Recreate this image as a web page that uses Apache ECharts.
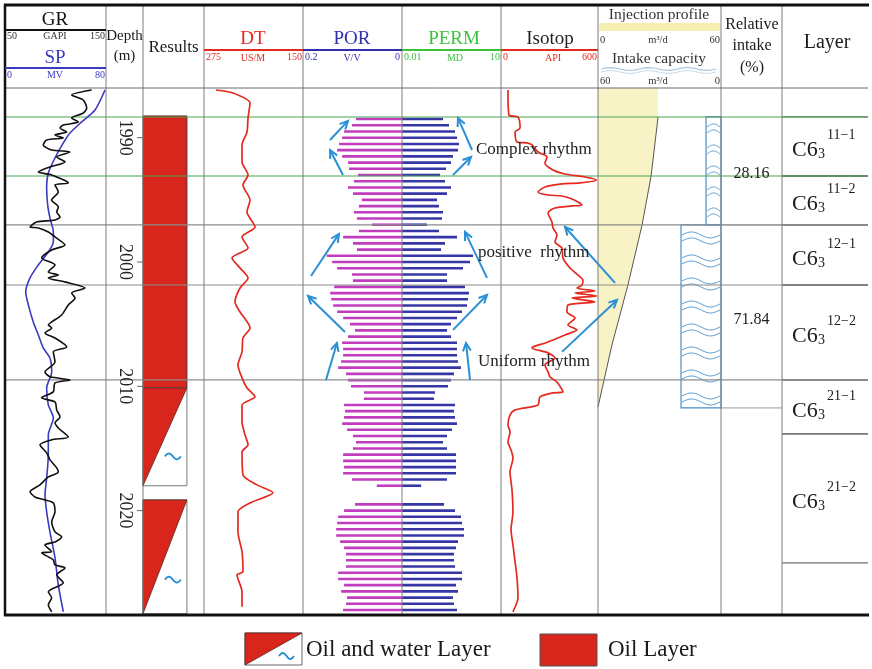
<!DOCTYPE html>
<html>
<head>
<meta charset="utf-8">
<script src="https://cdn.jsdelivr.net/npm/echarts@6/dist/echarts.min.js"></script>
<style>
  html, body { margin: 0; padding: 0; background: #fff; }
  #chart { width: 872px; height: 669px; }
</style>
</head>
<body>
<div id="chart"></div>
<script>
// depth scale (m)
const depthTicks = [1990, 2000, 2010, 2020];

// GR (GAPI) curve
const grDepth = [1986.16,1986.56,1986.97,1987.61,1988.01,1988.41,1988.73,1988.98,1989.22,1989.54,1989.78,1990.02,1990.18,1990.58,1990.99,1991.15,1991.55,1991.95,1992.35,1992.76,1993.0,1993.64,1993.8,1994.36,1995.01,1995.57,1995.97,1996.38,1996.62,1996.78,1997.18,1997.26,1997.58,1997.98,1998.63,1999.03,1999.67,2000.24,2000.8,2001.04,2001.28,2001.6,2002.09,2002.49,2002.89,2003.45,2004.26,2004.82,2005.06,2005.3,2005.71,2006.11,2006.83,2007.23,2008.04,2008.84,2009.24,2009.49,2009.73,2010.45,2010.93,2011.26,2011.9,2012.46,2012.94,2013.35,2014.07,2014.31,2014.71,2015.36,2015.92,2016.56,2016.89,2017.29,2017.93,2018.49,2018.9,2019.14,2019.38,2020.1,2020.91,2021.71,2022.11,2022.52,2022.76,2023.32,2023.4,2023.96,2024.37,2024.61,2025.17,2025.81,2026.54,2027.02,2027.58,2028.14];
const grValue = [135.8,116.0,127.5,130.9,127.5,116.0,122.6,107.7,104.5,111.1,99.5,107.7,91.3,87.9,96.2,114.4,101.2,109.4,94.5,83.0,96.2,112.7,99.5,102.8,96.2,102.8,101.2,104.5,99.5,81.4,74.8,83.0,92.9,99.5,109.4,96.2,86.3,99.5,92.9,102.8,92.9,109.4,129.2,116.0,119.3,112.7,106.1,96.2,92.9,96.2,89.6,99.5,111.1,97.8,99.5,89.6,94.6,114.4,99.5,97.8,86.3,99.5,101.2,104.5,99.5,102.8,112.7,96.2,84.6,91.3,94.6,101.2,102.8,92.9,84.6,74.8,79.7,89.6,97.8,99.5,96.2,99.5,106.1,99.5,89.6,96.2,86.3,97.8,99.5,109.4,101.2,107.7,92.9,96.2,92.9,96.2];

// SP (MV) curve
const spDepth = [1986.16,1987.77,1988.73,1989.62,1990.42,1991.63,1992.84,1994.04,1995.41,1996.46,1997.58,1998.39,1999.19,2000.24,2001.28,2002.41,2003.45,2004.82,2005.87,2006.91,2007.72,2008.84,2010.13,2011.5,2012.54,2013.91,2015.52,2017.37,2018.73,2020.1,2021.71,2023.8,2025.97,2028.14];
const spValue = [79.2,71.3,60.7,51.5,46.2,39.6,34.3,33.0,33.8,35.6,38.3,38.3,34.3,26.4,19.8,16.4,18.5,22.4,26.4,30.3,35.6,37.0,33.0,34.3,38.3,34.3,34.3,33.0,31.7,33.0,35.6,39.6,42.2,46.2];

// DT (US/M) curve
const dtDepth = [1986.16,1986.4,1987.21,1988.41,1989.54,1990.58,1991.95,1993.0,1993.8,1995.01,1995.97,1997.18,1997.98,1998.87,1999.67,2000.48,2001.28,2002.09,2003.21,2004.02,2005.3,2006.11,2007.23,2008.28,2009.32,2010.13,2010.85,2011.5,2012.86,2013.91,2014.71,2015.28,2017.13,2017.93,2018.57,2019.38,2020.1,2021.71,2023.32,2024.93,2025.17,2026.54,2027.74];
const dtValue = [259.8,238.4,216.9,219.4,220.7,227.0,227.0,219.4,225.8,216.9,220.7,210.6,227.0,219.4,239.6,229.5,219.4,229.5,235.9,229.5,216.9,225.8,227.0,232.1,227.0,220.7,210.6,227.0,227.0,223.2,219.4,227.0,225.8,208.1,187.9,216.9,232.1,232.1,227.0,225.8,233.3,227.0,227.0];

// Isotop (API) curve
const isoDepth = [1986.16,1988.17,1988.33,1989.22,1989.54,1990.34,1990.42,1990.58,1991.15,1991.55,1992.03,1992.6,1992.92,1993.16,1993.4,1993.64,1993.72,1993.96,1994.36,1994.61,1994.69,1994.93,1995.41,1995.49,1995.65,1996.05,1996.78,1997.26,1997.82,1998.39,1998.87,1999.67,2000.48,2001.2,2001.44,2001.85,2002.09,2002.33,2002.49,2002.73,2002.89,2003.21,2003.45,2004.02,2004.5,2005.06,2005.46,2005.87,2006.43,2006.83,2006.91,2007.31,2007.72,2008.28,2008.84,2009.24,2009.65,2010.45,2010.53,2010.85,2011.5,2011.9,2012.3,2013.11,2013.67,2014.47,2015.12,2015.76,2016.89,2018.33,2020.1,2021.55,2022.76,2024.12,2025.41,2027.02,2028.14];
const isoValue = [43,49,105,118,87,99,161,192,229,285,272,322,396,520,590,489,377,272,229,291,377,439,501,439,334,291,315,322,346,334,377,383,427,489,507,501,470,581,458,594,439,581,414,408,458,414,470,396,291,198,192,291,334,272,291,303,346,383,322,241,229,87,56,43,56,43,62,74,56,68,74,62,74,87,99,105,74];

// POR (V/V) and PERM (MD) per 0.5 m sample
const barDepth = [1988.5,1989,1989.5,1990,1990.5,1991,1991.5,1992,1992.5,1993,1993.5,1994,1994.5,1995,1995.5,1996,1996.5,1997,1997.5,1998,1998.5,1999,1999.5,2000,2000.5,2001,2001.5,2002,2002.5,2003,2003.5,2004,2004.5,2005,2005.5,2006,2006.5,2007,2007.5,2008,2008.5,2009,2009.5,2010,2010.5,2011,2011.5,2012,2012.5,2013,2013.5,2014,2014.5,2015,2015.5,2016,2016.5,2017,2017.5,2018,2019.5,2020,2020.5,2021,2021.5,2022,2022.5,2023,2023.5,2024,2024.5,2025,2025.5,2026,2026.5,2027,2027.5,2028];
const porValue = [0.093,0.101,0.117,0.121,0.127,0.131,0.121,0.109,0.107,0.089,0.097,0.109,0.099,0.081,0.087,0.097,0.091,0.061,0.087,0.119,0.099,0.091,0.152,0.141,0.131,0.101,0.099,0.137,0.145,0.143,0.139,0.131,0.119,0.105,0.095,0.109,0.121,0.119,0.119,0.123,0.129,0.113,0.109,0.103,0.077,0.077,0.117,0.115,0.117,0.121,0.111,0.099,0.093,0.099,0.119,0.119,0.117,0.119,0.101,0.051,0.095,0.117,0.129,0.131,0.133,0.133,0.125,0.117,0.113,0.113,0.113,0.129,0.129,0.117,0.123,0.111,0.113,0.119];
const permValue = [0.175,0.266,0.404,0.464,0.534,0.498,0.351,0.305,0.215,0.142,0.201,0.305,0.231,0.115,0.132,0.175,0.163,0.057,0.132,0.464,0.201,0.152,1.42,1.15,0.705,0.231,0.231,0.811,1.07,1.00,0.932,0.658,0.464,0.305,0.231,0.305,0.464,0.464,0.464,0.498,0.613,0.376,0.305,0.248,0.100,0.093,0.404,0.376,0.404,0.464,0.327,0.231,0.175,0.231,0.433,0.433,0.433,0.433,0.231,0.038,0.188,0.404,0.613,0.658,0.757,0.757,0.498,0.433,0.376,0.376,0.404,0.658,0.658,0.433,0.498,0.351,0.376,0.464];

// interpretation results
const resultTop = [1988.25, 2010.13, 2019.14];
const resultBase = [2010.13, 2018.0, 2028.3];
const resultType = ['oil', 'oilwater', 'oilwater'];

// injection profile (m3/d)
const injDepth = [1986.0, 1988.33, 1993.08, 1997.02, 2001.85, 2006.67, 2011.66];
const injRate = [29.3, 29.3, 25.9, 21.5, 14.6, 6.8, 0];

// intake capacity (m3/d) and relative intake (%)
const intakeTop = [1988.33, 1997.02];
const intakeBase = [1997.02, 2011.74];
const intakeRate = [7.3, 19.5];
const relativeIntake = [28.16, 71.84];

// layers
const layerTop = [1988.33, 1993.08, 1997.02, 2001.85, 2009.49, 2013.83];
const layerBase = [1993.08, 1997.02, 2001.85, 2009.49, 2013.83, 2024.2];
const layerName = ['11\u22121', '11\u22122', '12\u22121', '12\u22122', '21\u22121', '21\u22122'];

// correlation lines
const zoneLines = [1988.33, 1993.08];
const tieLines = [1997.02, 2001.85, 2009.49];

// rhythm arrows: [x from, depth from, x to, depth to] (x in page px)
const rhythmArrows = [
  [330, 1990.18, 348, 1988.65], [343, 1993.0, 330, 1990.99],
  [472, 1990.99, 458, 1988.41], [453, 1993.0, 471, 1991.55],
  [311, 2001.12, 339, 1997.74], [345, 2005.63, 308, 2002.73],
  [487, 2001.28, 465, 1997.58], [453, 2005.46, 487, 2002.65],
  [326, 2009.49, 337, 2006.51], [470, 2009.49, 466, 2006.51],
  [615, 2001.68, 565, 1997.18], [562, 2007.23, 617, 2003.05]
];

const SERIF = '"Liberation Serif","DejaVu Serif",serif';
const RED = '#d8261d';
const CURVE_RED = '#e4291f';
const ARROW = '#2b8fd5';
const TILDE = '#2a8ad0';
const DMIN = 1986, DMAX = 2028.4;

const chart = echarts.init(document.getElementById('chart'));

function mkGrid(l, r) {
  return { left: l, width: r - l, top: 88, bottom: 54, show: false };
}
const grids = [
  mkGrid(5, 106), mkGrid(106, 143), mkGrid(143, 204), mkGrid(204, 303), mkGrid(303, 402),
  mkGrid(402, 501), mkGrid(501, 598), mkGrid(598, 721), mkGrid(721, 782), mkGrid(782, 868), mkGrid(5, 868)
];
const yAxes = grids.map((g, i) => ({ type: 'value', gridIndex: i, min: DMIN, max: DMAX, inverse: true, show: false }));
function xa(gi, min, max, extra) {
  return Object.assign({ type: 'value', gridIndex: gi, min, max, show: false }, extra || {});
}
const xAxes = [
  xa(0, 50, 150), xa(0, 0, 80), xa(1, 0, 1), xa(2, 0, 1), xa(3, 150, 275, { inverse: true }),
  xa(4, 0, 0.2, { inverse: true }), { type: 'log', gridIndex: 5, min: 0.01, max: 10, logBase: 10, show: false },
  xa(6, 0, 600), xa(7, 0, 60), xa(7, 0, 60, { inverse: true }), xa(8, 0, 1), xa(9, 0, 1), xa(10, 5, 868)
];

function txtStyle(s, size, color, align) {
  return { text: s, font: size + 'px ' + SERIF, fill: color || '#1a1a1a',
    align: align || 'center', textAlign: align || 'center', verticalAlign: 'middle', textVerticalAlign: 'middle' };
}
function wavePts(x0, x1, yc, amp, halfPeriods) {
  const pts = [];
  for (let k = 0; k <= 20; k++) {
    const t = k / 20;
    pts.push([x0 + (x1 - x0) * t, yc - amp * Math.sin(Math.PI * halfPeriods * t)]);
  }
  return pts;
}

function curve(xi, yi, vals, deps, color, width) {
  return {
    type: 'line', xAxisIndex: xi, yAxisIndex: yi, z: 6, symbol: 'none', smooth: 0.25,
    data: vals.map((v, i) => [v, deps[i]]),
    lineStyle: { color, width }
  };
}

function bars(xi, yi, vals, base, color) {
  return {
    type: 'custom', xAxisIndex: xi, yAxisIndex: yi, z: 4,
    data: vals.map((v, i) => [v, barDepth[i]]),
    renderItem: (p, api) => {
      const a = api.coord([base, api.value(1)]);
      const b = api.coord([api.value(0), api.value(1)]);
      return {
        type: 'rect',
        shape: { x: Math.min(a[0], b[0]), y: a[1] - 1.3, width: Math.abs(b[0] - a[0]), height: 2.6 },
        style: { fill: color }
      };
    }
  };
}

const series = [
  // horizontal correlation lines
  {
    type: 'custom', xAxisIndex: 12, yAxisIndex: 10, z: 5,
    data: tieLines.map(d => [5, d]),
    renderItem: (p, api) => {
      const a = api.coord([5, api.value(1)]), b = api.coord([868, api.value(1)]);
      return { type: 'line', shape: { x1: a[0], y1: a[1], x2: b[0], y2: b[1] }, style: { stroke: '#8c8c8c', lineWidth: 1.2 } };
    }
  },
  {
    type: 'custom', xAxisIndex: 12, yAxisIndex: 10, z: 5,
    data: zoneLines.map(d => [5, d]),
    renderItem: (p, api) => {
      const a = api.coord([5, api.value(1)]), b = api.coord([868, api.value(1)]);
      return { type: 'line', shape: { x1: a[0], y1: a[1], x2: b[0], y2: b[1] }, style: { stroke: '#4aa553', lineWidth: 1.1 } };
    }
  },
  curve(1, 0, spValue, spDepth, '#3b3bbf', 1.6),
  curve(0, 0, grValue, grDepth, '#111111', 1.6),
  // depth labels
  {
    type: 'custom', xAxisIndex: 2, yAxisIndex: 1, z: 6,
    data: depthTicks.map(d => [0.5, d]),
    renderItem: (p, api) => {
      const c = api.coord([0.5, api.value(1)]);
      const r = api.coord([1, api.value(1)]);
      return {
        type: 'group', children: [
          { type: 'text', x: c[0], y: c[1], rotation: -Math.PI / 2, style: txtStyle(String(api.value(1)), 18, '#222') },
          { type: 'line', shape: { x1: r[0] - 6, y1: r[1], x2: r[0], y2: r[1] }, style: { stroke: '#666', lineWidth: 1 } }
        ]
      };
    }
  },
  // results
  {
    type: 'custom', xAxisIndex: 3, yAxisIndex: 2, z: 3,
    data: resultTop.map((t, i) => [0, t, resultBase[i]]),
    renderItem: (p, api) => {
      const tl = api.coord([0, api.value(1)]);
      const br = api.coord([0.72, api.value(2)]);
      const w = br[0] - tl[0], h = br[1] - tl[1];
      if (resultType[p.dataIndex] === 'oil') {
        return { type: 'rect', shape: { x: tl[0], y: tl[1], width: w, height: h }, style: { fill: RED, stroke: '#5b2a22', lineWidth: 1 } };
      }
      return {
        type: 'group', children: [
          { type: 'rect', shape: { x: tl[0], y: tl[1], width: w, height: h }, style: { fill: '#fff', stroke: '#777', lineWidth: 1 } },
          { type: 'polygon', shape: { points: [[tl[0], tl[1]], [br[0], tl[1]], [tl[0], br[1]]] }, style: { fill: RED, stroke: '#5b2a22', lineWidth: 0.8 } },
          { type: 'polyline', shape: { points: wavePts(tl[0] + w * 0.68 - 8, tl[0] + w * 0.68 + 8, tl[1] + h * 0.7, 3, 2) }, style: { stroke: TILDE, lineWidth: 1.8, fill: 'none' } }
        ]
      };
    }
  },
  curve(4, 3, dtValue, dtDepth, CURVE_RED, 1.7),
  bars(5, 4, porValue, 0, '#c13dbd'),
  bars(6, 5, permValue, 0.01, '#3636a6'),
  curve(7, 6, isoValue, isoDepth, CURVE_RED, 1.7),
  // injection profile
  {
    type: 'custom', xAxisIndex: 8, yAxisIndex: 7, z: 2,
    data: [[0, injDepth[0]]],
    renderItem: (p, api) => {
      const pts = injRate.map((v, i) => api.coord([v, injDepth[i]]));
      const first = api.coord([0, injDepth[0]]);
      const last = api.coord([0, injDepth[injDepth.length - 1]]);
      return {
        type: 'group', children: [
          { type: 'polygon', shape: { points: [first].concat(pts, [last]) }, style: { fill: '#f8f3c6' } },
          { type: 'polyline', shape: { points: pts.slice(1) }, style: { stroke: '#555', lineWidth: 1, fill: 'none' } }
        ]
      };
    }
  },
  // intake capacity
  {
    type: 'custom', xAxisIndex: 9, yAxisIndex: 7, z: 4,
    data: intakeRate.map((v, i) => [v, intakeTop[i], intakeBase[i]]),
    renderItem: (p, api) => {
      const tl = api.coord([api.value(0), api.value(1)]);
      const br = api.coord([0, api.value(2)]);
      const w = br[0] - tl[0], h = br[1] - tl[1];
      const children = [{ type: 'rect', shape: { x: tl[0], y: tl[1], width: w, height: h }, style: { fill: 'none', stroke: '#4a8dc6', lineWidth: 1.2 } }];
      const half = w < 25 ? 1 : 2;
      const step = w < 25 ? 21 : 23;
      for (let y = tl[1] + 10; y < br[1] - 8; y += step) {
        children.push({ type: 'polyline', shape: { points: wavePts(tl[0] + 1, br[0] - 1, y, 3, half) }, style: { stroke: '#5b9bd0', lineWidth: 1, fill: 'none' } });
        children.push({ type: 'polyline', shape: { points: wavePts(tl[0] + 1, br[0] - 1, y + 6, 3, half) }, style: { stroke: '#5b9bd0', lineWidth: 1, fill: 'none' } });
      }
      return { type: 'group', children };
    }
  },
  // relative intake
  {
    type: 'custom', xAxisIndex: 10, yAxisIndex: 8, z: 5,
    data: relativeIntake.map((v, i) => [v, (intakeTop[i] + intakeBase[i]) / 2]),
    renderItem: (p, api) => {
      const i = p.dataIndex;
      const c = api.coord([0.5, api.value(1)]);
      const a = api.coord([0, intakeBase[i]]), b = api.coord([1, intakeBase[i]]);
      return {
        type: 'group', children: [
          { type: 'line', shape: { x1: a[0], y1: a[1], x2: b[0], y2: b[1] }, style: { stroke: '#999', lineWidth: 1 } },
          { type: 'text', x: c[0], y: c[1] + 3, style: txtStyle(api.value(0).toFixed(2), 16, '#222') }
        ]
      };
    }
  },
  // layers
  {
    type: 'custom', xAxisIndex: 11, yAxisIndex: 9, z: 4,
    data: layerTop.map((t, i) => [0, t, layerBase[i]]),
    renderItem: (p, api) => {
      const i = p.dataIndex;
      const a = api.coord([0, api.value(1)]), b = api.coord([1, api.value(2)]);
      const mid = (a[1] + b[1]) / 2 + 4, x0 = a[0] + 10;
      return {
        type: 'group', children: [
          { type: 'line', shape: { x1: a[0], y1: a[1], x2: b[0], y2: a[1] }, style: { stroke: '#707070', lineWidth: 1.3 } },
          { type: 'line', shape: { x1: a[0], y1: b[1], x2: b[0], y2: b[1] }, style: { stroke: '#707070', lineWidth: 1.3 } },
          { type: 'text', x: x0, y: mid, style: txtStyle('C6', 22, '#1a1a1a', 'left') },
          { type: 'text', x: x0 + 26, y: mid + 4, style: txtStyle('3', 14, '#1a1a1a', 'left') },
          { type: 'text', x: x0 + 35, y: mid - 15, style: txtStyle(layerName[i], 14, '#1a1a1a', 'left') }
        ]
      };
    }
  },
  // rhythm arrows
  {
    type: 'custom', xAxisIndex: 12, yAxisIndex: 10, z: 8,
    data: rhythmArrows,
    renderItem: (p, api) => {
      const s = api.coord([api.value(0), api.value(1)]);
      const e = api.coord([api.value(2), api.value(3)]);
      const ang = Math.atan2(e[1] - s[1], e[0] - s[0]);
      const L = 9, sp = 0.45;
      const h1 = [e[0] - L * Math.cos(ang - sp), e[1] - L * Math.sin(ang - sp)];
      const h2 = [e[0] - L * Math.cos(ang + sp), e[1] - L * Math.sin(ang + sp)];
      return {
        type: 'group', children: [
          { type: 'line', shape: { x1: s[0], y1: s[1], x2: e[0], y2: e[1] }, style: { stroke: ARROW, lineWidth: 2 } },
          { type: 'polyline', shape: { points: [h1, e, h2] }, style: { stroke: ARROW, lineWidth: 2, fill: 'none' } }
        ]
      };
    }
  }
];

// header, frame and legend
function t(x, y, s, size, color, align) {
  return { type: 'text', x, y, z: 50, style: txtStyle(s, size, color, align) };
}
function ln(x1, y1, x2, y2, color, w) {
  return { type: 'line', z: 60, shape: { x1, y1, x2, y2 }, style: { stroke: color, lineWidth: w } };
}
const elements = [];
[106, 143, 204, 303, 402, 501, 598, 721, 782].forEach(x => elements.push(ln(x, 5, x, 615, '#7c7c7c', 1)));
elements.push(ln(5, 88, 868, 88, '#6a6a6a', 1));
elements.push(ln(5, 4, 5, 616, '#111', 2.5));
elements.push(ln(4, 5, 869, 5, '#111', 3));
elements.push(ln(4, 615, 869, 615, '#111', 3));

// GR / SP
elements.push(t(55, 20, 'GR', 19, '#111'), ln(5, 30, 106, 30, '#111', 2));
elements.push(t(7, 36, '50', 10, '#333', 'left'), t(55, 36, 'GAPI', 10, '#333'), t(105, 36, '150', 10, '#333', 'right'));
elements.push(t(55, 58, 'SP', 19, '#3b3bbf'), ln(5, 68, 106, 68, '#3b3bbf', 2));
elements.push(t(7, 75, '0', 10, '#3b3bbf', 'left'), t(55, 75, 'MV', 10, '#3b3bbf'), t(105, 75, '80', 10, '#3b3bbf', 'right'));
// Depth / Results
elements.push(t(124.5, 36, 'Depth', 15, '#1a1a1a'), t(124.5, 56, '(m)', 15, '#1a1a1a'));
elements.push(t(173.5, 48, 'Results', 17, '#1a1a1a'));
// DT
elements.push(t(253, 39, 'DT', 19, CURVE_RED), ln(204, 50, 303, 50, CURVE_RED, 2));
elements.push(t(206, 57, '275', 10, CURVE_RED, 'left'), t(253, 58, 'US/M', 10, CURVE_RED), t(302, 57, '150', 10, CURVE_RED, 'right'));
// POR
elements.push(t(352, 39, 'POR', 19, '#2f2fb0'), ln(303, 50, 402, 50, '#2f2fb0', 2));
elements.push(t(305, 57, '0.2', 10, '#2f2fb0', 'left'), t(352, 58, 'V/V', 10, '#2f2fb0'), t(400, 57, '0', 10, '#2f2fb0', 'right'));
// PERM
elements.push(t(454, 39, 'PERM', 19, '#3dc23d'), ln(402, 50, 501, 50, '#3dc23d', 2));
elements.push(t(404, 57, '0.01', 10, '#3dc23d', 'left'), t(455, 58, 'MD', 10, '#3dc23d'), t(500, 57, '10', 10, '#3dc23d', 'right'));
// Isotop
elements.push(t(550, 39, 'Isotop', 19, '#222'), ln(501, 50, 598, 50, CURVE_RED, 2));
elements.push(t(503, 57, '0', 10, CURVE_RED, 'left'), t(553, 58, 'API', 10, CURVE_RED), t(597, 57, '600', 10, CURVE_RED, 'right'));
// Injection profile / intake capacity
elements.push(t(659, 15, 'Injection profile', 15.5, '#333'));
elements.push({ type: 'rect', z: 50, shape: { x: 599, y: 23, width: 121, height: 8 }, style: { fill: '#f6efb3' } });
elements.push(t(600, 40, '0', 10.5, '#333', 'left'), t(658, 40, 'm\u00b3/d', 10.5, '#333'), t(720, 40, '60', 10.5, '#333', 'right'));
elements.push(t(659, 59, 'Intake capacity', 15.5, '#333'));
elements.push({ type: 'polyline', z: 50, shape: { points: wavePts(601, 716, 69, 1.5, 6) }, style: { stroke: '#a8c6de', lineWidth: 1.2, fill: 'none' } });
elements.push({ type: 'polyline', z: 50, shape: { points: wavePts(601, 716, 72, 1.5, 6) }, style: { stroke: '#c6dbea', lineWidth: 1, fill: 'none' } });
elements.push(t(600, 81, '60', 10.5, '#333', 'left'), t(658, 81, 'm\u00b3/d', 10.5, '#333'), t(720, 81, '0', 10.5, '#333', 'right'));
// Relative intake / Layer
elements.push(t(752, 25, 'Relative', 16, '#1a1a1a'), t(752, 46, 'intake', 16, '#1a1a1a'), t(752, 68, '(%)', 16, '#1a1a1a'));
elements.push(t(827, 43, 'Layer', 20, '#1a1a1a'));
// rhythm notes
elements.push({ type: 'text', x: 476, y: 150, z: 70, style: txtStyle('Complex rhythm', 17, '#222', 'left') });
elements.push({ type: 'text', x: 478, y: 253, z: 70, style: txtStyle('positive  rhythm', 17, '#222', 'left') });
elements.push({ type: 'text', x: 478, y: 362, z: 70, style: txtStyle('Uniform rhythm', 17, '#222', 'left') });
// legend
elements.push({ type: 'rect', z: 50, shape: { x: 245, y: 633, width: 57, height: 32 }, style: { fill: '#fff', stroke: '#666', lineWidth: 1 } });
elements.push({ type: 'polygon', z: 51, shape: { points: [[245, 633], [302, 633], [245, 665]] }, style: { fill: RED, stroke: '#5b2a22', lineWidth: 0.8 } });
elements.push({ type: 'polyline', z: 52, shape: { points: wavePts(279, 294, 656, 3, 2) }, style: { stroke: TILDE, lineWidth: 1.8, fill: 'none' } });
elements.push(t(306, 650, 'Oil and water Layer', 23, '#1a1a1a', 'left'));
elements.push({ type: 'rect', z: 50, shape: { x: 540, y: 634, width: 57, height: 32 }, style: { fill: RED, stroke: '#555', lineWidth: 1 } });
elements.push(t(608, 650, 'Oil Layer', 23, '#1a1a1a', 'left'));

chart.setOption({
  animation: false,
  backgroundColor: '#fff',
  grid: grids,
  xAxis: xAxes,
  yAxis: yAxes,
  series: series,
  graphic: { elements: elements }
});
</script>
</body>
</html>
